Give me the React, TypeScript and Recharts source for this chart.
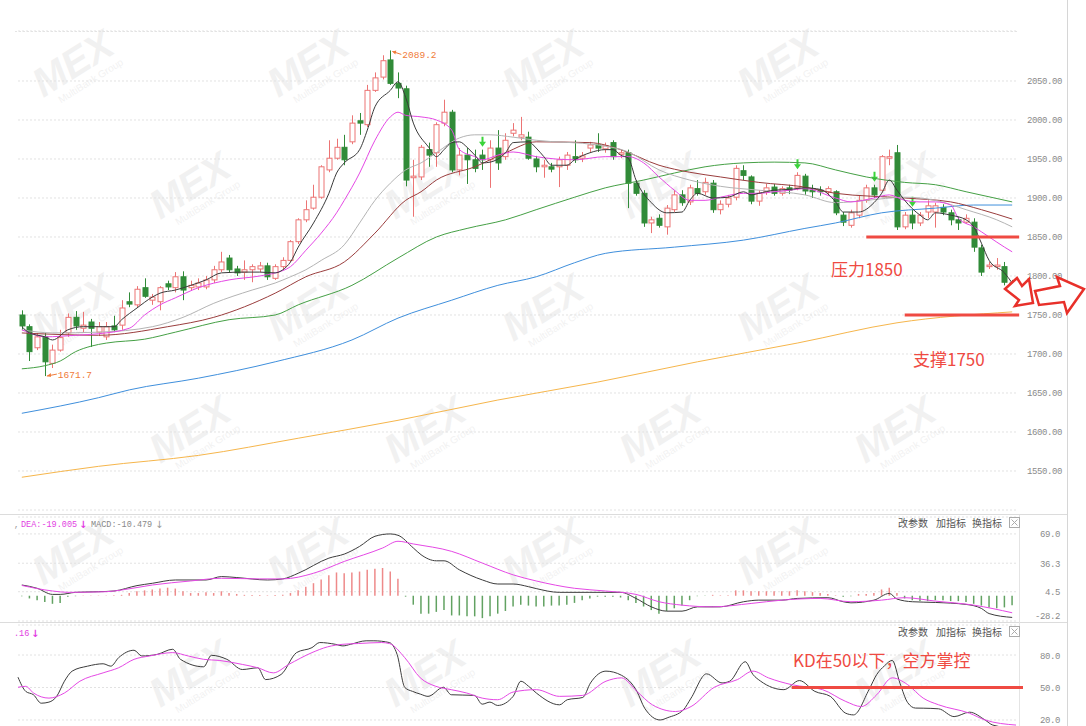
import React from 'react'
import {
  ComposedChart,
  Bar,
  Line,
  XAxis,
  YAxis,
  CartesianGrid,
  ReferenceLine,
  ReferenceDot,
  Cell,
} from 'recharts'

// daily candles: [open, close, high, low]
const candles: [number, number, number, number][] = [
  [1750, 1736, 1756, 1731], [1735, 1703, 1738, 1691], [1708, 1722, 1727, 1705], [1722, 1690, 1727, 1671.7],
  [1688, 1705, 1712, 1682], [1705, 1721, 1731, 1703], [1727, 1747, 1752, 1722], [1747, 1736, 1755, 1731],
  [1733, 1737, 1754, 1727], [1741, 1733, 1745, 1709], [1728, 1735, 1741, 1723], [1722, 1735, 1741, 1718],
  [1736, 1731, 1749, 1728], [1737, 1759, 1769, 1731], [1767, 1764, 1779, 1760], [1763, 1783, 1787, 1760],
  [1785, 1774, 1797, 1772], [1769, 1773, 1777, 1763], [1767, 1785, 1787, 1756], [1790, 1786, 1794, 1782],
  [1785, 1799, 1805, 1779], [1799, 1782, 1806, 1769], [1785, 1788, 1794, 1781], [1786, 1791, 1797, 1782],
  [1786, 1795, 1800, 1783], [1795, 1808, 1813, 1791], [1808, 1818, 1831, 1805], [1823, 1808, 1827, 1804],
  [1809, 1804, 1813, 1800], [1805, 1808, 1820, 1795], [1808, 1812, 1815, 1792], [1809, 1813, 1818, 1805],
  [1813, 1799, 1817, 1795], [1797, 1812, 1815, 1795], [1812, 1820, 1824, 1808], [1820, 1844, 1846, 1818],
  [1844, 1872, 1874, 1841], [1872, 1885, 1897, 1869], [1887, 1901, 1917, 1885], [1901, 1940, 1942, 1899],
  [1936, 1951, 1974, 1933], [1951, 1965, 1976, 1949], [1965, 1949, 1981, 1942], [1972, 1996, 2006, 1969],
  [1999, 1996, 2009, 1981], [1994, 2038, 2045, 1991], [2038, 2054, 2061, 2036], [2055, 2076, 2083, 2052],
  [2077, 2047, 2089.2, 2045], [2047, 2041, 2061, 2028], [2040, 1923, 2044, 1915], [1926, 1928, 1949, 1876],
  [1927, 1965, 1968, 1923], [1962, 1955, 1971, 1940], [1958, 1994, 1997, 1940], [1996, 2010, 2026, 1992],
  [2010, 1936, 2013, 1933], [1936, 1955, 1964, 1929], [1955, 1949, 1964, 1918], [1949, 1938, 1962, 1933],
  [1955, 1949, 1962, 1936], [1949, 1964, 1974, 1913], [1964, 1945, 1987, 1936], [1953, 1974, 1983, 1949],
  [1983, 1987, 1996, 1979], [1978, 1981, 2004, 1974], [1978, 1951, 1985, 1949], [1950, 1940, 1954, 1933],
  [1940, 1942, 1949, 1926], [1940, 1937, 1945, 1933], [1940, 1949, 1953, 1914], [1942, 1955, 1959, 1936],
  [1953, 1949, 1974, 1945], [1951, 1954, 1959, 1946], [1964, 1968, 1972, 1959], [1968, 1964, 1983, 1959],
  [1963, 1967, 1971, 1958], [1971, 1953, 1974, 1949], [1956, 1958, 1962, 1951], [1958, 1919, 1962, 1887],
  [1919, 1906, 1923, 1903], [1906, 1868, 1910, 1863], [1868, 1872, 1876, 1855], [1874, 1865, 1879, 1862],
  [1863, 1887, 1891, 1853], [1885, 1904, 1910, 1882], [1904, 1894, 1910, 1890], [1895, 1913, 1917, 1891],
  [1912, 1906, 1923, 1903], [1908, 1920, 1926, 1904], [1919, 1885, 1923, 1881], [1885, 1892, 1897, 1879],
  [1892, 1900, 1904, 1888], [1901, 1938, 1942, 1897], [1935, 1929, 1942, 1923], [1927, 1896, 1929, 1892],
  [1896, 1906, 1910, 1890], [1908, 1913, 1918, 1904], [1914, 1906, 1918, 1903], [1906, 1912, 1915, 1903],
  [1913, 1910, 1917, 1905], [1913, 1929, 1933, 1910], [1928, 1909, 1931, 1904], [1910, 1908, 1917, 1900],
  [1910, 1908, 1915, 1903], [1908, 1912, 1915, 1903], [1908, 1881, 1910, 1878], [1878, 1869, 1882, 1864],
  [1865, 1881, 1885, 1862], [1878, 1897, 1903, 1874], [1897, 1913, 1917, 1894], [1913, 1904, 1917, 1900],
  [1910, 1953, 1955, 1908], [1951, 1953, 1962, 1942], [1958, 1863, 1968, 1859], [1863, 1878, 1882, 1860],
  [1878, 1868, 1885, 1860], [1868, 1878, 1882, 1864], [1882, 1890, 1897, 1874], [1882, 1890, 1894, 1862],
  [1888, 1882, 1892, 1878], [1881, 1872, 1885, 1865], [1872, 1868, 1876, 1859], [1869, 1874, 1879, 1867],
  [1869, 1837, 1874, 1831], [1836, 1805, 1840, 1800], [1812, 1814, 1818, 1809], [1812, 1814, 1823, 1808],
  [1812, 1792, 1818, 1788], [1791, 1783, 1795, 1779],
]

// bars that carry the green signal arrow
const signalBars = [60, 101, 111, 116]

// moving averages, read as [bar index, value]
const ma5: [number, number][] = [
  [0, 1735], [1, 1727], [3, 1722], [4, 1718], [6, 1731], [8, 1735], [10, 1735], [12, 1735], [13, 1744],
  [15, 1759], [17, 1773], [18, 1778], [20, 1782], [22, 1788], [24, 1795], [26, 1804], [29, 1805], [31, 1805],
  [33, 1804], [34, 1808], [35, 1818], [36, 1837], [38, 1868], [40, 1906], [41, 1932], [42, 1945], [44, 1962],
  [45, 1987], [46, 2017], [48, 2038], [49, 2049], [50, 2029], [51, 1996], [53, 1965], [54, 1953], [55, 1962],
  [56, 1971], [57, 1972], [58, 1965], [59, 1955], [60, 1945], [61, 1946], [63, 1958], [64, 1971], [66, 1972],
  [67, 1964], [68, 1953], [69, 1942], [71, 1942], [72, 1949], [74, 1958], [76, 1962], [77, 1962], [78, 1955],
  [79, 1951], [80, 1923], [82, 1894], [84, 1881], [86, 1882], [87, 1897], [88, 1906], [90, 1900], [92, 1901],
  [94, 1908], [95, 1904], [96, 1906], [98, 1910], [100, 1911], [102, 1913], [104, 1911], [106, 1895],
  [107, 1882], [109, 1882], [111, 1894], [112, 1906], [113, 1923], [114, 1910], [115, 1897], [117, 1878],
  [118, 1872], [119, 1881], [121, 1878], [123, 1872], [124, 1863], [125, 1842], [126, 1820], [128, 1804],
  [129, 1791],
]
const ma10: [number, number][] = [
  [0, 1731], [1, 1727], [3, 1722], [7, 1724], [10, 1726], [14, 1733], [16, 1750], [18, 1763], [20, 1772],
  [23, 1785], [27, 1795], [31, 1800], [33, 1804], [35, 1812], [37, 1833], [39, 1855], [41, 1881], [42, 1897],
  [44, 1932], [46, 1974], [48, 2004], [49, 2010], [50, 2006], [52, 2004], [54, 2000], [56, 1987], [57, 1962],
  [59, 1953], [60, 1949], [62, 1955], [64, 1959], [67, 1953], [72, 1949], [76, 1953], [79, 1953], [81, 1945],
  [83, 1927], [85, 1910], [87, 1897], [89, 1897], [91, 1901], [94, 1906], [96, 1906], [98, 1908], [100, 1910],
  [102, 1912], [106, 1900], [108, 1895], [111, 1900], [113, 1904], [115, 1897], [117, 1895], [119, 1895],
  [121, 1891], [122, 1874], [124, 1863], [126, 1850], [128, 1837], [129, 1831],
]
const ma20: [number, number][] = [
  [0, 1731], [4, 1727], [10, 1728], [17, 1735], [21, 1747], [25, 1765], [30, 1782], [33, 1791], [35, 1799],
  [37, 1808], [39, 1820], [42, 1840], [44, 1868], [46, 1897], [48, 1919], [50, 1936], [52, 1945], [54, 1958],
  [57, 1977], [59, 1981], [61, 1981], [64, 1978], [67, 1974], [75, 1968], [79, 1959], [83, 1936], [87, 1923],
  [91, 1915], [96, 1910], [102, 1904], [106, 1894], [110, 1897], [115, 1901], [119, 1897], [123, 1885],
  [127, 1872], [129, 1863],
]
const ma30: [number, number][] = [
  [0, 1727], [10, 1724], [19, 1735], [25, 1747], [33, 1778], [37, 1799], [42, 1818], [46, 1855], [50, 1897],
  [52, 1908], [54, 1923], [59, 1940], [63, 1958], [67, 1972], [74, 1971], [78, 1962], [83, 1942], [87, 1933],
  [91, 1927], [96, 1920], [102, 1914], [106, 1906], [115, 1900], [121, 1895], [125, 1885], [129, 1873],
]
const ma60: [number, number][] = [
  [0, 1681], [3, 1685], [5, 1691], [7, 1703], [9, 1710], [11, 1714], [16, 1719], [20, 1728], [27, 1744],
  [33, 1750], [36, 1763], [43, 1788], [49, 1823], [54, 1850], [58, 1861], [63, 1872], [67, 1885], [72, 1901],
  [76, 1913], [81, 1923], [85, 1932], [89, 1940], [94, 1945], [98, 1946], [102, 1945], [106, 1936],
  [110, 1927], [115, 1920], [119, 1917], [123, 1908], [129, 1895],
]
const ma120: [number, number][] = [
  [0, 1624], [10, 1644], [14, 1654], [23, 1669], [33, 1690], [43, 1718], [49, 1746], [56, 1769], [62, 1788],
  [67, 1799], [72, 1817], [76, 1829], [85, 1837], [94, 1846], [102, 1861], [106, 1868], [112, 1881],
  [119, 1887], [124, 1891], [129, 1891],
]
const ma250: [number, number][] = [
  [0, 1542], [10, 1556], [23, 1570], [36, 1592], [49, 1615], [62, 1641], [75, 1664], [88, 1690], [101, 1714],
  [114, 1740], [129, 1754],
]

// MACD histogram, one value per bar
const macdHist: number[] = [
  -0.5, -3, -5, -7, -9, -8, -1, -0.5, 0.3, 0.2,
  0.3, 0.3, 0.5, 1, 3, 5, 6, 7, 8, 9,
  8, 5, 3, 3, 4, 3, 5, 3, 2, 1,
  0.8, 0.8, 0.5, 0.8, 1, 3, 6, 10, 14, 18,
  23, 26, 25, 26, 27, 29, 30, 31, 27, 19,
  -1, -10, -20, -20, -18, -16, -22, -22, -23, -23,
  -25, -23, -20, -17, -12, -10, -11, -12, -12, -11,
  -11, -10, -8, -5, -3, -1, -1, -1, -2, -5,
  -8, -12, -16, -20, -17, -14, -11, -5, -0.5, -0.3,
  1, 0.5, 0.5, 6, 6, 5, 5, 5, 5, 5,
  5, 6, 5, 4, 3, 2, 0.5, -1, -0.5, 2,
  2, 3, 7, 9, 3, -3, -5, -6, -6, -5,
  -5, -6, -6, -7, -9, -11, -13, -14, -13, -10.5,
]
const dif: [number, number][] = [
  [0, 12.0], [2, 8.3], [4, 1.5], [5, 1.5], [7, 3.8], [10, 4.5], [12, 5.3], [15, 11.3], [17, 13.9], [20, 17.6],
  [24, 17.6], [26, 21.4], [28, 20.3], [32, 17.6], [34, 18.8], [36, 25.1], [40, 42.0], [42, 46.5], [44, 55.1],
  [46, 66.4], [48, 69.0], [49, 67.5], [51, 53.3], [52, 45.8], [54, 39.0], [55, 39.0], [57, 28.9], [60, 17.6],
  [62, 13.1], [64, 13.1], [66, 10.1], [67, 8.0], [70, 3.8], [74, 3.8], [78, 3.8], [80, -3.0], [82, -12.4],
  [84, -17.2], [86, -17.2], [88, -12.4], [91, -12.4], [94, -6.7], [96, -4.9], [99, -4.9], [101, -3.0],
  [105, -2.2], [107, -6.7], [108, -7.9], [111, -4.9], [113, 2.6], [114, -3.7], [116, -6.7], [119, -7.5],
  [123, -9.7], [125, -14.2], [126, -19.9], [129, -24.2],
]
const dea: [number, number][] = [
  [0, 11.5], [4, 5.3], [6, 3.8], [11, 4.5], [13, 6.4], [17, 12.0], [22, 16.5], [26, 19.5], [31, 18.8],
  [34, 18.8], [38, 25.1], [42, 38.3], [47, 53.3], [49, 60.8], [51, 57.8], [56, 49.5], [60, 36.4], [64, 23.3],
  [67, 16.5], [72, 8.3], [76, 5.3], [80, 1.5], [83, -6.7], [86, -10.5], [90, -12.4], [95, -8.6], [99, -4.9],
  [104, -3.0], [108, -6.7], [112, -4.9], [115, -2.2], [119, -6.0], [124, -10.5], [129, -19.0],
]

// KD
const kLine: [number, number][] = [
  [0, 59.5], [1, 46.4], [2, 43.3], [3, 35.5], [4, 36.5], [5, 41.8], [6, 55.8], [7, 65.1], [9, 69.7], [11, 71.9],
  [12, 69.7], [13, 77.5], [15, 84.4], [16, 79.1], [18, 80.6], [20, 85.3], [21, 76.0], [24, 69.1], [25, 79.7],
  [27, 76.0], [29, 66.6], [31, 68.2], [32, 57.3], [34, 62.0], [36, 82.2], [38, 86.8], [39, 91.5], [41, 89.9],
  [42, 88.4], [43, 89.9], [45, 93.1], [46, 93.1], [48, 91.5], [49, 80.6], [50, 50.0], [51, 46.4], [52, 43.9],
  [53, 41.8], [55, 50.2], [56, 43.3], [59, 42.7], [60, 34.6], [61, 36.5], [62, 33.4], [64, 41.8], [65, 55.8],
  [66, 51.1], [67, 44.9], [70, 34.0], [71, 38.7], [73, 40.8], [74, 54.2], [76, 65.1], [78, 61.3], [80, 46.4],
  [81, 30.9], [83, 20.0], [84, 22.2], [86, 29.3], [87, 40.2], [89, 62.6], [91, 54.2], [92, 55.8], [94, 73.8],
  [95, 62.0], [96, 55.8], [99, 48.0], [101, 56.4], [103, 46.4], [105, 41.8], [107, 26.2], [108, 24.7],
  [110, 48.0], [111, 62.0], [112, 70.0], [113, 75.0], [114, 54.0], [115, 36.0], [116, 31.0], [117, 30.9],
  [119, 30.3], [121, 23.1], [123, 27.2], [125, 20.0], [126, 15.3], [129, 12.2],
]
const dLine: [number, number][] = [
  [0, 50.2], [1, 51.1], [2, 44.9], [4, 40.2], [6, 44.9], [8, 55.8], [11, 63.5], [13, 68.2], [15, 76.0],
  [17, 79.1], [20, 82.2], [22, 79.1], [24, 76.0], [26, 75.0], [29, 71.3], [31, 68.2], [33, 63.5], [35, 71.3],
  [38, 82.2], [40, 87.5], [42, 89.9], [44, 90.6], [47, 91.5], [48, 90.6], [50, 77.5], [52, 58.9], [54, 51.1],
  [56, 48.0], [58, 44.9], [60, 40.2], [62, 38.7], [64, 45.8], [67, 48.0], [70, 41.8], [73, 42.7], [76, 55.8],
  [78, 58.9], [80, 46.4], [82, 34.0], [85, 27.8], [87, 32.4], [90, 50.2], [93, 57.3], [95, 65.1], [97, 58.9],
  [100, 52.6], [104, 48.0], [107, 37.1], [109, 32.4], [111, 43.3], [113, 58.9], [115, 52.6], [117, 40.2],
  [119, 34.0], [123, 26.2], [125, 20.0], [129, 15.3],
]

const priceTicks = [1550, 1600, 1650, 1700, 1750, 1800, 1850, 1900, 1950, 2000, 2050]
const macdTicks = [69.0, 36.3, 4.5, -28.2]
const kdTicks = [80, 50, 20]

const at = (pts: [number, number][], i: number) => {
  const hit = pts.find((p) => p[0] === i)
  return hit ? hit[1] : null
}

const rows = candles.map(([o, c, h, l], i) => ({
  i, o, c, h, l,
  range: [l, h],
  ma5: at(ma5, i), ma10: at(ma10, i), ma20: at(ma20, i), ma30: at(ma30, i),
  ma60: at(ma60, i), ma120: at(ma120, i), ma250: at(ma250, i),
  hist: macdHist[i], dif: at(dif, i), dea: at(dea, i),
  k: at(kLine, i), d: at(dLine, i),
}))

const maStyle = [
  { key: 'ma250', color: '#f6b64c' },
  { key: 'ma120', color: '#3f8fdc' },
  { key: 'ma60', color: '#45a045' },
  { key: 'ma30', color: '#9a3d3d' },
  { key: 'ma20', color: '#b4b4b4' },
  { key: 'ma10', color: '#e548e5' },
  { key: 'ma5', color: '#3a3a3a' },
]

const RED = '#ef4a42'
const UP = '#ec7474'
const DOWN = '#318b38'
const LEFT = 18
const AXIS_W = 70

function Candle(props: any) {
  const { x, y, width, height, payload } = props
  if (!payload || !height) return null
  const { o, c, h, l, i } = payload
  const k = height / (h - l)
  const cx = Math.round(x + width / 2) + 0.5
  const top = y + (h - Math.max(o, c)) * k
  const bot = y + (h - Math.min(o, c)) * k
  const up = c >= o
  const col = up ? UP : DOWN
  return (
    <g>
      <line x1={cx} x2={cx} y1={y} y2={y + height} stroke={col} strokeWidth={1} />
      <rect x={cx - 2.5} y={top} width={5} height={Math.max(1, bot - top)} fill={up ? '#fff' : col} stroke={col} strokeWidth={1} />
      {signalBars.includes(i) && (
        <path d={`M${cx - 1} ${y - 13} h2 v5 h2.5 l-3.5 5 l-3.5 -5 h2.5 z`} fill="#3bd43b" />
      )}
    </g>
  )
}

function AxisTick(props: any) {
  const { x, y, payload, digits, shift, lift } = props
  const v = payload.value
  const dy = lift && v === lift ? -6 : 0
  return (
    <text x={x + shift} y={y + 3.5 + dy} textAnchor="end" fontFamily="Liberation Mono" fontSize={9} letterSpacing={-0.4} fill="#8a8a8a">
      {v.toFixed(digits)}
    </text>
  )
}

function ExtremeLabel(props: any) {
  const { cx, cy, text, below } = props
  if (cx == null) return null
  const col = '#f07c3a'
  if (below) {
    return (
      <g>
        <line x1={cx + 2} y1={cy} x2={cx + 12} y2={cy - 2} stroke={col} strokeWidth={1} />
        <path d={`M${cx + 2} ${cy} l4 -3 l0 4 z`} fill={col} />
        <text x={cx + 13} y={cy + 2} fontFamily="Liberation Mono" fontSize={9.5} fill={col}>{text}</text>
      </g>
    )
  }
  return (
    <g>
      <line x1={cx + 2} y1={cy + 1} x2={cx + 11} y2={cy + 4} stroke={col} strokeWidth={1} />
      <path d={`M${cx + 2} ${cy + 1} l4 -1 l-1 4 z`} fill={col} />
      <text x={cx + 12} y={cy + 8} fontFamily="Liberation Mono" fontSize={9.5} fill={col}>{text}</text>
    </g>
  )
}

function Segment(props: any) {
  const { x1, y1, x2, y2 } = props
  return <line x1={x1} y1={y1} x2={x2 + 7} y2={y2} stroke={RED} strokeWidth={3} />
}

function Watermarks() {
  const marks: React.ReactNode[] = []
  for (let r = 0; r < 6; r++) {
    for (let c = 0; c < 4; c++) {
      const x = 80 + c * 235 + (r % 2) * 117
      const y = 75 + r * 122
      marks.push(
        <g key={`${r}-${c}`} transform={`translate(${x},${y}) rotate(-32)`} opacity={0.05}>
          <text x={0} y={0} textAnchor="middle" fontFamily="Liberation Sans" fontWeight={900} fontStyle="italic" fontSize={40} fill="#000">MEX</text>
          <text x={6} y={14} textAnchor="middle" fontFamily="Liberation Sans" fontSize={10} fill="#000">MultiBank Group</text>
        </g>
      )
    }
  }
  return <>{marks}</>
}

function PanelMenu({ y }: { y: number }) {
  const f = { fontFamily: 'Noto Sans CJK SC', fontSize: 10, fill: '#555' }
  return (
    <g>
      <text x={898} y={y} {...f}>改参数</text>
      <text x={936} y={y} {...f}>加指标</text>
      <text x={972} y={y} {...f}>换指标</text>
      <rect x={1009.5} y={y - 9.5} width={10} height={10} fill="none" stroke="#aaa" />
      <path d={`M${1011.5} ${y - 7.5} l6 6 M${1017.5} ${y - 7.5} l-6 6`} stroke="#aaa" />
    </g>
  )
}

export default function App() {
  return (
    <div style={{ position: 'absolute', left: 0, top: 0, width: 1086, height: 726, overflow: 'hidden', background: '#fff', fontFamily: 'Noto Sans' }}>
      <svg width={1086} height={726} style={{ position: 'absolute', left: 0, top: 0 }}>
        <Watermarks />
        <line x1={15} x2={1018} y1={31.5} y2={31.5} stroke="#e4e4e4" strokeDasharray="2 2" />
        <line x1={0} x2={1067} y1={514.5} y2={514.5} stroke="#dcdcdc" />
        <line x1={0} x2={1067} y1={622.5} y2={622.5} stroke="#dcdcdc" />
        <line x1={1067.5} x2={1067.5} y1={0} y2={726} stroke="#d6d6d6" />
        <line x1={1019.5} x2={1019.5} y1={515} y2={726} stroke="#e4e4e4" />
      </svg>

      <div style={{ position: 'absolute', left: 0, top: 0 }}>
        <ComposedChart width={1086} height={514} data={rows} margin={{ top: 31, right: 0, bottom: 4, left: LEFT }}>
          <CartesianGrid vertical={false} stroke="#e2e2e2" strokeDasharray="2 2" />
          <XAxis dataKey="i" hide />
          <YAxis
            orientation="right"
            width={AXIS_W}
            domain={[1500, 2114.1]}
            allowDataOverflow
            ticks={priceTicks}
            interval={0}
            axisLine={false}
            tickLine={false}
            tickSize={0}
            tick={<AxisTick digits={2} shift={44} />}
          />
          <Bar dataKey="range" shape={<Candle />} isAnimationActive={false} />
          {maStyle.map((m) => (
            <Line key={m.key} dataKey={m.key} type="monotone" stroke={m.color} strokeWidth={1} dot={false} activeDot={false} connectNulls isAnimationActive={false} />
          ))}
          <ReferenceDot x={48} y={2089.2} r={0} shape={(p: any) => <ExtremeLabel {...p} text="2089.2" />} />
          <ReferenceDot x={3} y={1671.7} r={0} shape={(p: any) => <ExtremeLabel {...p} text="1671.7" below />} />
          <ReferenceLine segment={[{ x: 110, y: 1850 }, { x: 129, y: 1850 }]} shape={(p: any) => <Segment {...p} />} />
          <ReferenceLine segment={[{ x: 115, y: 1750 }, { x: 129, y: 1750 }]} shape={(p: any) => <Segment {...p} />} />
        </ComposedChart>
      </div>

      <div style={{ position: 'absolute', left: 0, top: 514 }}>
        <ComposedChart width={1086} height={110} data={rows} margin={{ top: 3, right: 0, bottom: 3, left: LEFT }}>
          <CartesianGrid vertical={false} stroke="#e2e2e2" strokeDasharray="2 2" />
          <XAxis dataKey="i" hide />
          <YAxis
            orientation="right"
            width={AXIS_W}
            domain={[-28.2, 87.9]}
            allowDataOverflow
            ticks={macdTicks}
            interval={0}
            axisLine={false}
            tickLine={false}
            tickSize={0}
            tick={<AxisTick digits={1} shift={42} lift={-28.2} />}
          />
          <Bar dataKey="hist" barSize={1.5} isAnimationActive={false}>
            {rows.map((r) => (
              <Cell key={r.i} fill={r.hist >= 0 ? '#ee8a8a' : '#62a262'} />
            ))}
          </Bar>
          <Line dataKey="dif" type="monotone" stroke="#3c3c3c" strokeWidth={1} dot={false} activeDot={false} connectNulls isAnimationActive={false} />
          <Line dataKey="dea" type="monotone" stroke="#e548e5" strokeWidth={1} dot={false} activeDot={false} connectNulls isAnimationActive={false} />
        </ComposedChart>
      </div>

      <div style={{ position: 'absolute', left: 0, top: 622 }}>
        <ComposedChart width={1086} height={124} data={rows} margin={{ top: 3, right: 0, bottom: 1, left: LEFT }}>
          <CartesianGrid vertical={false} stroke="#e2e2e2" strokeDasharray="2 2" />
          <XAxis dataKey="i" hide />
          <YAxis
            orientation="right"
            width={AXIS_W}
            domain={[-3.1, 107.7]}
            allowDataOverflow
            ticks={kdTicks}
            interval={0}
            axisLine={false}
            tickLine={false}
            tickSize={0}
            tick={<AxisTick digits={1} shift={42} />}
          />
          <Line dataKey="k" type="monotone" stroke="#3c3c3c" strokeWidth={1} dot={false} activeDot={false} connectNulls isAnimationActive={false} />
          <Line dataKey="d" type="monotone" stroke="#e548e5" strokeWidth={1} dot={false} activeDot={false} connectNulls isAnimationActive={false} />
          <ReferenceLine segment={[{ x: 100, y: 50 }, { x: 129, y: 50 }]} shape={(p: any) => <Segment {...p} />} />
        </ComposedChart>
      </div>

      <svg width={1086} height={726} style={{ position: 'absolute', left: 0, top: 0, pointerEvents: 'none' }}>
        <text x={14} y={527} fontFamily="Liberation Mono" fontSize={8.5} fill="#999">,</text>
        <text x={21} y={527} fontFamily="Liberation Mono" fontSize={8.5} fill="#e23ee2">DEA:-19.005</text>
        <text x={79} y={528} fontFamily="DejaVu Sans" fontSize={10} fontWeight={700} fill="#e23ee2">↓</text>
        <text x={91} y={527} fontFamily="Liberation Mono" fontSize={8.5} fill="#888">MACD:-10.479</text>
        <text x={155} y={528} fontFamily="DejaVu Sans" fontSize={10} fill="#999">↓</text>
        <text x={14} y={636} fontFamily="Liberation Mono" fontSize={8.5} fill="#e23ee2">.16</text>
        <text x={31} y={637} fontFamily="DejaVu Sans" fontSize={10} fontWeight={700} fill="#e23ee2">↓</text>
        <PanelMenu y={527} />
        <PanelMenu y={636} />

        <text x={831} y={276} fontFamily="Noto Sans CJK SC" fontSize={17} fill={RED}>压力1850</text>
        <text x={913} y={366} fontFamily="Noto Sans CJK SC" fontSize={17} fill={RED}>支撑1750</text>
        <text x={793} y={667} fontFamily="Noto Sans CJK SC" fontSize={17} fill={RED}>KD在50以下，空方掌控</text>

        <polygon points="1005,289 1017,278 1022,286 1029,279 1033,303 1015,306 1019,300" fill="#fff" stroke="#e8302a" strokeWidth={2.5} strokeLinejoin="miter" />
        <polygon points="1035,291 1060,286 1057,277 1084,289 1067,313 1064,302 1039,305" fill="#fff" stroke="#e8302a" strokeWidth={2.5} strokeLinejoin="miter" />
      </svg>
    </div>
  )
}
